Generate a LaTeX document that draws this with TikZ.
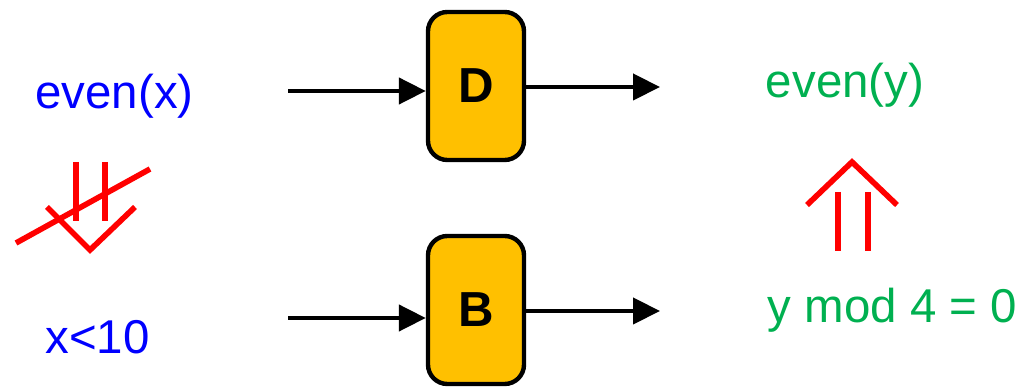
\documentclass[tikz,border=0pt]{standalone}
\usepackage{fontspec}
\setmainfont{Liberation Sans}
\usetikzlibrary{arrows.meta}
\definecolor{condBlue}{RGB}{0,0,255}
\definecolor{condGreen}{RGB}{0,176,80}
\definecolor{boxOrange}{RGB}{255,192,0}
\definecolor{markRed}{RGB}{255,0,0}

\begin{document}
\begin{tikzpicture}[
  font=\fontsize{27}{32}\selectfont,
  >=Triangle,
  blk/.style={
    rectangle,
    rounded corners=11pt,
    draw=black,
    fill=boxOrange,
    inner sep=0pt,
    minimum width=1.92cm,
    minimum height=2.96cm,
    font=\fontsize{28}{32}\selectfont\bfseries,
    line width=2.5pt,
  },
  flow/.style={black, line width=2.5pt, -{Triangle[length=0.54cm, width=0.52cm]}},
  redmark/.style={markRed, line width=3.2pt},
  pre/.style={anchor=base, text=condBlue},
  post/.style={anchor=base, text=condGreen},
]
  \useasboundingbox (0,0) rectangle (20.46,7.74);

  % the two blocks
  \node[blk] (D) at (9.52,6.02) {D};
  \node[blk] (B) at (9.52,1.54) {B};

  \coordinate (inD) at (5.76,5.92);
  \coordinate (outD) at (13.2,6.0);
  \coordinate (inB) at (5.76,1.38);
  \coordinate (outB) at (13.2,1.52);

  \draw[flow] (inD) -- (inD -| D.west);
  \draw[flow] (D.east |- outD) -- (outD);
  \draw[flow] (inB) -- (inB -| B.west);
  \draw[flow] (B.east |- outB) -- (outB);

  % conditions
  \node[pre] (px) at (2.29,5.56) {even(x)};
  \node[pre] (pb) at (1.95,0.66) {x<10};
  \node[post] (qy) at (16.9,5.78) {even(y)};
  \node[post] (qm) at (17.85,1.28) {y mod 4 = 0};

  % crossed-out implication
  \draw[redmark] (1.52,4.5) -- (1.52,3.32);
  \draw[redmark] (2.10,4.5) -- (2.10,3.32);
  \draw[redmark] (0.94,3.6) -- (1.8,2.74) -- (2.7,3.6);
  \draw[redmark] (0.32,2.88) -- (3.0,4.36);

  % implication upwards
  \draw[redmark] (16.14,3.64) -- (17.04,4.5) -- (17.94,3.64);
  \draw[redmark] (16.76,3.9) -- (16.76,2.72);
  \draw[redmark] (17.36,3.9) -- (17.36,2.72);

\end{tikzpicture}
\end{document}
